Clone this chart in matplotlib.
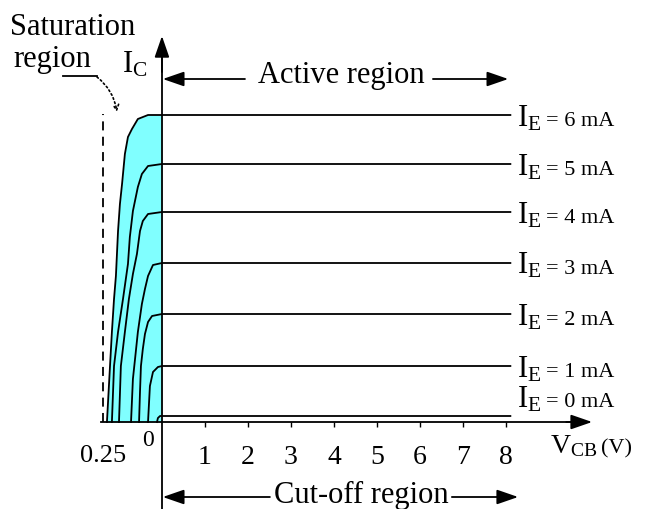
import numpy as np
import matplotlib.pyplot as plt

plt.rcParams['font.family'] = ['Liberation Serif', 'DejaVu Serif']
plt.rcParams['mathtext.fontset'] = 'custom'
plt.rcParams['mathtext.rm'] = 'Liberation Serif'

# emitter current of each curve and its collector current in the active region (mA)
ie_levels = [6, 5, 4, 3, 2, 1, 0]
ic_active = [6.14, 5.16, 4.20, 3.18, 2.16, 1.12, 0.12]

# saturation part of each curve: V_CB (V) and I_C (mA)
sat_v = [
    [-0.233, -0.220, -0.212, -0.203, -0.195, -0.186, -0.178, -0.169, -0.157, -0.144, -0.127, -0.102, -0.059, 0.0],
    [-0.212, -0.203, -0.186, -0.165, -0.144, -0.136, -0.123, -0.102, -0.085, -0.059, 0.0],
    [-0.182, -0.174, -0.157, -0.140, -0.123, -0.106, -0.093, -0.081, -0.059, 0.0],
    [-0.131, -0.123, -0.114, -0.102, -0.085, -0.072, -0.059, -0.038, 0.0],
    [-0.097, -0.093, -0.089, -0.081, -0.072, -0.059, -0.042, 0.0],
    [-0.059, -0.051, -0.038, -0.017, 0.0],
    [-0.021, -0.017, -0.008, 0.0],
]
sat_ic = [
    [0, 1.12, 1.80, 2.46, 2.92, 3.82, 4.36, 4.76, 5.36, 5.70, 5.86, 6.06, 6.14, 6.14],
    [0, 1.12, 1.80, 2.46, 3.16, 3.70, 4.22, 4.70, 4.96, 5.12, 5.16],
    [0, 1.12, 1.80, 2.46, 2.96, 3.36, 3.82, 4.02, 4.16, 4.20],
    [0, 0.86, 1.26, 1.80, 2.36, 2.66, 2.92, 3.14, 3.18],
    [0, 0.60, 1.12, 1.46, 1.76, 2.00, 2.12, 2.16],
    [0, 0.72, 1.00, 1.10, 1.12],
    [0, 0.08, 0.12, 0.12],
]
v_end = 8.1
v_ticks = [1, 2, 3, 4, 5, 6, 7, 8]
v_sat_edge = -0.25

# the negative V_CB side is stretched
K = 236 / 43


def fwd(v):
    v = np.asarray(v, dtype=float)
    return np.where(v < 0, v * K, v)


def inv(u):
    u = np.asarray(u, dtype=float)
    return np.where(u < 0, u / K, u)


fig = plt.figure(figsize=(6.45, 5.10), dpi=100)
ax = fig.add_axes([0, 0, 1, 1])
ax.set_xscale('function', functions=(fwd, inv))
ax.set_xlim(-0.686, 11.23)
ax.set_ylim(-1.74, 8.46)

# shaded saturation region under the top curve
ax.fill_betweenx(sat_ic[0], sat_v[0], 0, color='#80ffff', lw=0)

for v, ic, lev in zip(sat_v, sat_ic, ic_active):
    ax.plot(list(v) + [v_end], list(ic) + [lev], color='k', lw=1.3)

ax.plot([v_sat_edge, v_sat_edge], [0, 6.16], color='k', lw=1.3, ls=(0, (5, 3.5)))

# axes through the origin
for s in ['top', 'right']:
    ax.spines[s].set_visible(False)
ax.spines['left'].set_position(('data', 0))
ax.spines['bottom'].set_position(('data', 0))
ax.spines['left'].set_bounds(-1.74, 7.3)
ax.spines['bottom'].set_bounds(-0.26, 9.6)
for s in ['left', 'bottom']:
    ax.spines[s].set_linewidth(1.3)

head = dict(arrowstyle='-|>,head_length=1.3,head_width=0.45', color='k', lw=1.3,
            shrinkA=0, shrinkB=0, mutation_scale=10)
ax.annotate('', xy=(0, 7.72), xytext=(0, 7.0), arrowprops=head)
ax.annotate('', xy=(10.0, 0), xytext=(9.4, 0), arrowprops=head)

ax.set_yticks([])
ax.set_xticks(v_ticks)
ax.set_xticklabels([str(t) for t in v_ticks])
ax.tick_params(axis='x', direction='out', length=3.6, width=1, pad=12, labelsize=20)

ax.text(v_sat_edge, -0.66, '0.25', fontsize=19, ha='center', va='center')
ax.text(-0.059, -0.34, '0', fontsize=17, ha='center', va='center')

# curve labels
for ie, lev in zip(ie_levels, ic_active):
    y = lev - 0.2 if ie > 0 else 0.32
    ax.text(8.26, y, r'$\mathregular{I_E}$', fontsize=22, ha='left', va='baseline')
    ax.text(8.93, y, '= %d mA' % ie, fontsize=16, ha='left', va='baseline')

ax.text(-0.169, 7.02, r'$\mathregular{I_C}$', fontsize=22, ha='left', va='baseline')
ax.text(9.02, -0.6, r'$\mathregular{V_{CB}}$', fontsize=20, ha='left', va='baseline')
ax.text(10.2, -0.6, '(V)', fontsize=16, ha='left', va='baseline')

# region annotations
ax.text(-0.644, 7.76, 'Saturation', fontsize=22, ha='left', va='baseline')
ax.text(-0.631, 7.12, 'region', fontsize=22, ha='left', va='baseline')
ax.plot([-0.419, -0.275], [6.92, 6.92], color='k', lw=1.3)
ax.annotate('', xy=(-0.191, 6.2), xytext=(-0.275, 6.9),
            arrowprops=dict(arrowstyle='->', color='k', lw=1.2, ls=':',
                            connectionstyle='arc3,rad=-0.2', shrinkA=0, shrinkB=0))

ax.text(4.16, 6.8, 'Active region', fontsize=22, ha='center', va='baseline')
ax.annotate('', xy=(0.02, 6.86), xytext=(1.93, 6.86), arrowprops=head)
ax.annotate('', xy=(8.05, 6.86), xytext=(6.3, 6.86), arrowprops=head)

ax.text(4.63, -1.6, 'Cut-off region', fontsize=22, ha='center', va='baseline')
ax.annotate('', xy=(0.02, -1.5), xytext=(2.51, -1.5), arrowprops=head)
ax.annotate('', xy=(8.28, -1.5), xytext=(6.74, -1.5), arrowprops=head)

fig.savefig('out.png', dpi=100)
